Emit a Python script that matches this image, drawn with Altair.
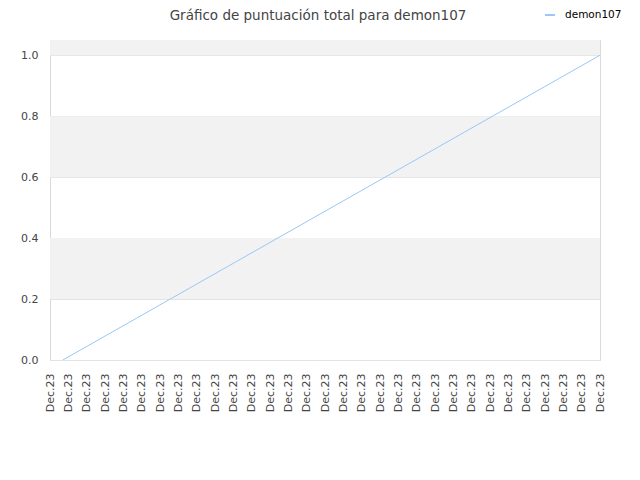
import altair as alt
import pandas as pd

title_text = "Gráfico de puntuación total para demon107"
series_name = "demon107"
x_labels = ["Dec.23"] * 31
x_ticks = list(range(31))
series_x = [0.7, 30.0]
series_y = [0.0, 1.0]
band_lo = [0.2, 0.6, 1.0]
band_hi = [0.4, 0.8, 1.2]
y_ticks = [0.0, 0.2, 0.4, 0.6, 0.8, 1.0]

line_df = pd.DataFrame({"x": series_x, "y": series_y, "serie": [series_name] * len(series_x)})
band_df = pd.DataFrame({"lo": band_lo, "hi": band_hi})
title_df = pd.DataFrame({"t": [title_text]})

label_js = "[" + ",".join("'" + s + "'" for s in x_labels) + "]"

x_scale = alt.Scale(domain=[0, 30], nice=False, zero=False)
y_scale = alt.Scale(domain=[0, 1.05], nice=False)

bands = alt.Chart(band_df).mark_rect(color="#f2f2f2", clip=True).encode(
    y=alt.Y("lo:Q", scale=y_scale),
    y2="hi:Q",
)

line = alt.Chart(line_df).mark_line(strokeWidth=1, clip=True).encode(
    x=alt.X("x:Q", scale=x_scale, title=None,
            axis=alt.Axis(values=x_ticks, labelExpr=label_js + "[datum.value]",
                          labelAngle=-90, labelAlign="right", labelBaseline="middle",
                          ticks=False, domain=False, grid=False, labelPadding=13,
                          labelFontSize=11, labelColor="#444", labelFont="DejaVu Sans",
                          labelOverlap=False)),
    y=alt.Y("y:Q", scale=y_scale, title=None,
            axis=alt.Axis(values=y_ticks, format=".1f", ticks=False, domain=False,
                          grid=True, gridColor="#e3e3e3", labelPadding=12,
                          labelFontSize=11, labelColor="#444", labelFont="DejaVu Sans")),
    color=alt.Color("serie:N", scale=alt.Scale(domain=[series_name], range=["#99c8f8"]),
                    legend=alt.Legend(title=None, orient="none", legendX=494, legendY=-31,
                                      symbolType="stroke", symbolSize=100, symbolStrokeWidth=2,
                                      labelOffset=9, labelFontSize=10.5, labelColor="#000",
                                      labelFont="DejaVu Sans")),
)

title = alt.Chart(title_df).mark_text(
    font="DejaVu Sans", fontSize=13.5, color="#444", align="center", baseline="alphabetic"
).encode(text="t:N", x=alt.value(268), y=alt.value(-20))

chart = alt.layer(bands, line, title).properties(
    width=550,
    height=320,
    autosize=alt.AutoSizeParams(type="none"),
    padding={"left": 42, "top": 32, "right": 32, "bottom": 80},
).configure_view(stroke="#d9d9d9")

chart.save("out.html", embed_options={"renderer": "svg", "actions": False})
